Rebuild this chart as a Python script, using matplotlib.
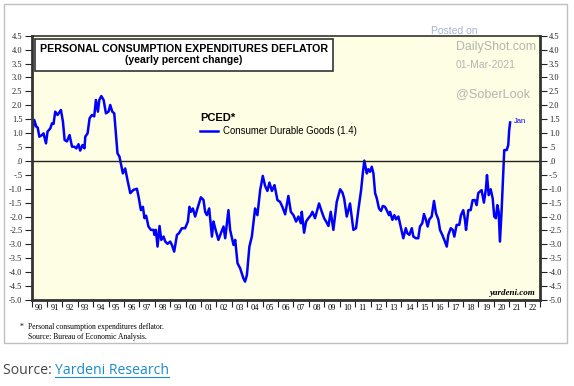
import matplotlib
matplotlib.use("Agg")
import matplotlib.pyplot as plt
from matplotlib.patches import Rectangle
import numpy as np

# PCE deflator, consumer durable goods, yearly % change
years = [
    1990.00, 1990.18, 1990.31, 1990.40, 1990.51, 1990.68, 1990.78, 1990.94,
    1991.04, 1991.22, 1991.33, 1991.43, 1991.54, 1991.69, 1991.80, 1991.91,
    1992.04, 1992.15, 1992.30, 1992.47, 1992.63, 1992.78, 1992.91, 1993.05,
    1993.16, 1993.31, 1993.44, 1993.49, 1993.64, 1993.77, 1993.92, 1994.07,
    1994.18, 1994.31, 1994.40, 1994.53, 1994.68, 1994.83, 1995.00, 1995.11,
    1995.24, 1995.37, 1995.58, 1995.71, 1995.80, 1995.93, 1996.08, 1996.23,
    1996.41, 1996.62, 1996.84, 1996.95, 1997.10, 1997.23, 1997.33, 1997.44,
    1997.59, 1997.75, 1997.92, 1997.98, 1998.07, 1998.18, 1998.31, 1998.42,
    1998.57, 1998.68, 1998.83, 1999.00, 1999.11, 1999.26, 1999.44, 1999.57,
    1999.76, 1999.97, 2000.15, 2000.25, 2000.34, 2000.47, 2000.62, 2000.77,
    2000.99, 2001.16, 2001.27, 2001.38, 2001.53, 2001.71, 2001.81, 2001.92,
    2002.13, 2002.29, 2002.46, 2002.57, 2002.78, 2002.89, 2003.11, 2003.22,
    2003.37, 2003.54, 2003.75, 2003.86, 2003.98, 2004.14, 2004.30, 2004.51,
    2004.66, 2004.84, 2005.01, 2005.16, 2005.31, 2005.44, 2005.60, 2005.77,
    2005.96, 2006.13, 2006.28, 2006.46, 2006.67, 2006.83, 2007.00, 2007.17,
    2007.32, 2007.48, 2007.54, 2007.69, 2007.82, 2007.97, 2008.13, 2008.23,
    2008.40, 2008.66, 2008.84, 2008.99, 2009.12, 2009.27, 2009.42, 2009.59,
    2009.81, 2010.03, 2010.18, 2010.29, 2010.46, 2010.67, 2010.89, 2011.06,
    2011.21, 2011.39, 2011.50, 2011.60, 2011.76, 2011.86, 2011.97, 2012.08,
    2012.19, 2012.30, 2012.41, 2012.55, 2012.68, 2012.80, 2012.94, 2013.05,
    2013.20, 2013.27, 2013.42, 2013.55, 2013.66, 2013.81, 2013.96, 2014.13,
    2014.29, 2014.39, 2014.52, 2014.68, 2014.78, 2014.95, 2015.10, 2015.21,
    2015.36, 2015.47, 2015.60, 2015.71, 2015.82, 2015.97, 2016.12, 2016.25,
    2016.40, 2016.51, 2016.66, 2016.79, 2016.95, 2017.05, 2017.21, 2017.34,
    2017.44, 2017.59, 2017.76, 2017.87, 2018.02, 2018.13, 2018.20, 2018.35,
    2018.50, 2018.63, 2018.78, 2018.89, 2018.99, 2019.21, 2019.36, 2019.49,
    2019.56, 2019.67, 2019.80, 2019.93, 2020.03, 2020.14, 2020.23, 2020.32,
    2020.40, 2020.51, 2020.62, 2020.68, 2020.84, 2020.94, 2021.00, 2021.06,
]
pced = [
    0.87, 1.47, 1.23, 1.20, 0.87, 0.93, 0.99, 0.63,
    1.05, 1.17, 1.35, 1.33, 1.77, 1.65, 1.74, 1.83,
    1.41, 0.75, 0.70, 0.93, 0.51, 0.51, 0.45, 0.60,
    0.37, 0.57, 0.45, 0.87, 0.99, 1.53, 1.65, 1.60,
    2.19, 1.77, 2.19, 2.33, 2.19, 1.71, 1.77, 2.01,
    1.77, 1.71, 0.27, 0.15, -0.09, -0.45, -0.27, -0.69,
    -1.16, -1.04, -1.00, -1.29, -1.77, -1.65, -2.06, -1.97,
    -2.36, -2.48, -2.48, -2.66, -2.48, -3.08, -2.34, -2.84,
    -2.72, -2.90, -2.98, -2.90, -3.02, -3.26, -2.66, -2.60,
    -2.42, -2.42, -2.18, -1.65, -1.83, -1.71, -2.00, -1.71,
    -1.31, -1.40, -1.83, -1.95, -1.71, -2.72, -2.18, -2.42,
    -2.84, -2.60, -2.36, -2.78, -1.77, -2.48, -3.02, -2.84,
    -3.68, -3.86, -4.22, -4.34, -4.10, -3.08, -2.72, -1.71,
    -1.95, -1.05, -0.54, -0.90, -1.08, -0.78, -1.08, -0.87,
    -1.41, -1.47, -1.65, -1.92, -1.26, -1.83, -1.95, -2.18,
    -2.00, -2.24, -1.83, -2.58, -2.18, -2.06, -1.95, -1.83,
    -2.06, -1.53, -1.83, -2.06, -2.18, -2.34, -1.83, -2.48,
    -1.47, -1.02, -1.14, -1.35, -2.00, -1.53, -2.48, -2.42,
    -1.77, -1.05, -0.45, 0.01, -0.45, -0.30, -0.39, -0.21,
    -0.45, -1.16, -1.35, -1.71, -1.80, -1.62, -1.65, -1.77,
    -1.95, -1.83, -2.12, -1.95, -2.10, -2.00, -2.36, -2.78,
    -2.42, -2.60, -2.66, -2.42, -2.72, -2.78, -2.78, -2.36,
    -2.24, -1.91, -2.12, -2.36, -2.10, -2.00, -1.44, -1.89,
    -2.10, -2.48, -2.66, -2.84, -3.08, -2.66, -2.42, -2.48,
    -2.72, -2.30, -2.30, -1.95, -1.77, -2.12, -2.48, -1.77,
    -1.77, -1.41, -1.41, -1.59, -1.16, -1.05, -1.50, -1.00,
    -0.51, -1.23, -1.02, -1.35, -2.00, -2.06, -1.59, -1.83,
    -2.90, -1.77, -0.33, 0.39, 0.39, 0.57, 1.11, 1.38,
]

year_labels = ["90", "91", "92", "93", "94", "95", "96", "97", "98", "99",
               "00", "01", "02", "03", "04", "05", "06", "07", "08", "09",
               "10", "11", "12", "13", "14", "15", "16", "17", "18", "19",
               "20", "21", "22"]
y_ticks = np.arange(-5.0, 4.51, 0.5)

W, H = 574, 386
fig = plt.figure(figsize=(W / 100, H / 100), dpi=100)
fig.patch.set_facecolor("white")

def fx(px):
    return px / W

def fy(py):
    return 1 - py / H

# outer gray frame around the chart image
fig.patches.append(Rectangle((fx(4), fy(343)), fx(563), (339) / H, transform=fig.transFigure,
                             fill=False, edgecolor="#c0c0c0", linewidth=1.0))

ax = fig.add_axes([fx(31.5), fy(300), fx(540 - 31.5), (300 - 35.7) / H])
ax.set_facecolor("#fefee4")
ax.set_xlim(1990, 2023)
ax.set_ylim(-5.0, 4.5)

ax.plot(years, pced, color="#0000ff", linewidth=1.8, solid_joinstyle="round")
ax.axhline(0, color="#222222", linewidth=1.0)

serif = "Liberation Serif"

# y axis on both sides
ax.set_yticks(y_ticks)
ylabs = []
for v in y_ticks:
    s = f"{v:.1f}"
    s = s.replace("0.", ".") if abs(v) < 1 else s
    ylabs.append(s)
ax.set_yticklabels(ylabs, fontsize=6, family=serif)
ax.tick_params(axis="y", which="both", left=True, right=True, labelleft=True, labelright=True,
               direction="out", length=5, width=0.8, pad=1.5, colors="#222222")

# x axis: ticks at year boundaries, labels centred in each year
ax.set_xticks(np.arange(1990, 2024))
ax.set_xticklabels([])
ax.set_xticks(np.arange(1990.5, 2023, 1.0), minor=True)
ax.set_xticklabels(year_labels, minor=True, fontsize=6, family=serif)
ax.tick_params(axis="x", which="major", direction="out", length=5, width=0.8, colors="#222222")
ax.tick_params(axis="x", which="minor", length=0, pad=3)

for side in ["left", "right", "bottom"]:
    ax.spines[side].set_linewidth(2.0)
    ax.spines[side].set_color("#333333")
ax.spines["top"].set_linewidth(1.2)
ax.spines["top"].set_color("#333333")

# title box
ax.add_patch(Rectangle((fx(34.5), fy(71)), fx(333 - 34.5), (71 - 39) / H, transform=fig.transFigure,
                       facecolor="white", edgecolor="#333333", linewidth=1.2, zorder=5))
fig.text(fx(184), fy(49), "PERSONAL CONSUMPTION EXPENDITURES DEFLATOR", ha="center", va="center",
         fontsize=7.7, fontweight="bold", family="Liberation Sans", zorder=6)
fig.text(fx(184), fy(60), "(yearly percent change)", ha="center", va="center",
         fontsize=7.6, fontweight="bold", family="Liberation Sans", zorder=6)

# legend
fig.text(fx(200), fy(118), "PCED*", ha="left", va="center", fontsize=8, fontweight="bold",
         family="Liberation Sans")
fig.lines.append(plt.Line2D([fx(200), fx(218)], [fy(131), fy(131)], transform=fig.transFigure,
                            color="#0000ff", linewidth=1.8))
fig.text(fx(223), fy(131), "Consumer Durable Goods (1.4)", ha="left", va="center", fontsize=6.9,
         family="Liberation Sans")
ax.text(2021.3, 1.4, "Jan", color="#0000ff", fontsize=5.5, family="Liberation Sans",
        ha="left", va="center")

# watermark
fig.text(fx(431), fy(31), "Posted on", color="#a8b4d0", fontsize=7.5, family="Liberation Sans",
         ha="left", va="center")
fig.text(fx(456), fy(47), "DailyShot.com", color="#b4b4b4", fontsize=8.9, family="Liberation Sans",
         ha="left", va="center")
fig.text(fx(456), fy(65), "01-Mar-2021", color="#b4b4b4", fontsize=7.5, family="Liberation Sans",
         ha="left", va="center")
fig.text(fx(456), fy(94), "@SoberLook", color="#b4b4b4", fontsize=9.1, family="Liberation Sans",
         ha="left", va="center")

fig.text(fx(536), fy(293), "yardeni.com", fontsize=6.5, fontweight="bold", style="italic",
         family=serif, ha="right", va="center")

# footnotes
fig.text(fx(20), fy(327), "*", fontsize=5.5, family=serif, ha="left", va="center")
fig.text(fx(28), fy(327), "Personal consumption expenditures deflator.", fontsize=5.5, family=serif,
         ha="left", va="center")
fig.text(fx(28), fy(337), "Source: Bureau of Economic Analysis.", fontsize=5.5, family=serif,
         ha="left", va="center")

# page caption below the image
t1 = fig.text(fx(3), fy(371), "Source: ", fontsize=10.1, family="Open Sans", color="#444444",
              ha="left", va="center")
fig.canvas.draw()
bb = t1.get_window_extent()
t2 = fig.text(bb.x1 / W, fy(371), "Yardeni Research", fontsize=10.1, family="Open Sans",
              color="#1a8bcf", ha="left", va="center")
fig.canvas.draw()
bb2 = t2.get_window_extent()
fig.lines.append(plt.Line2D([bb2.x0 / W, bb2.x1 / W], [bb2.y0 / H + 1.5 / H] * 2,
                            transform=fig.transFigure, color="#1a8bcf", linewidth=0.8))

fig.savefig("out.png", dpi=100)
